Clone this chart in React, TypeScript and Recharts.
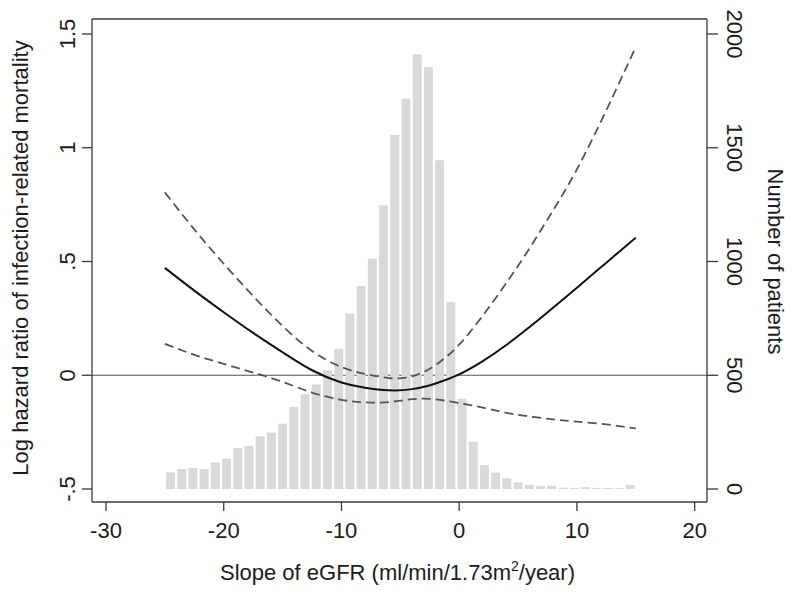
import React from "react";
import { ComposedChart, Bar, Line, XAxis, YAxis, ReferenceLine } from "recharts";

// histogram of eGFR slopes (42 bins between -25 and 15)
const BIN_START = -25;
const BIN_END = 15;
const BIN_COUNTS = [
  73, 88, 93, 88, 117, 134, 180, 189, 232, 248, 287, 361, 417, 459, 522, 616, 771, 892, 1012, 1246, 1556,
  1715, 1911, 1855, 1445, 822, 397, 208, 105, 72, 47, 29, 19, 14, 14, 6, 5, 8, 5, 4, 4, 18,
];

// spline estimate with 95% CI
const CURVE_X = [-25, -22.5, -20, -17.5, -15, -12.5, -10, -8, -6, -4, -2, 0, 2, 4, 6, 8, 10, 12.5, 15];
const ESTIMATE = [0.472, 0.372, 0.277, 0.186, 0.101, 0.022, -0.032, -0.055, -0.066, -0.061, -0.036, 0.004, 0.062, 0.133, 0.213, 0.298, 0.385, 0.495, 0.605];
const UPPER = [0.804, 0.641, 0.49, 0.348, 0.216, 0.107, 0.036, 0.006, -0.012, -0.005, 0.045, 0.135, 0.262, 0.405, 0.56, 0.727, 0.905, 1.165, 1.443];
const LOWER = [0.138, 0.09, 0.05, 0.012, -0.029, -0.076, -0.108, -0.119, -0.118, -0.105, -0.106, -0.122, -0.142, -0.165, -0.181, -0.194, -0.204, -0.216, -0.234];

const X_TICKS = [-30, -20, -10, 0, 10, 20];
const HR_TICKS = [-0.5, 0, 0.5, 1, 1.5];
const HR_TICK_LABELS = ["-.5", "0", ".5", "1", "1.5"];
const N_TICKS = [0, 500, 1000, 1500, 2000];

const X_DOMAIN = [-31.19, 21.05];
const HR_DOMAIN = [-0.5571, 1.5659];
const N_DOMAIN = [-57.1, 2065.9];

const FONT = "'Liberation Sans', Arial, sans-serif";
const FS = 22;
const TEXT = "#1c1c1c";
const FRAME = "#3a3a3a";

const binWidth = (BIN_END - BIN_START) / BIN_COUNTS.length;
const bins = BIN_COUNTS.map((count, i) => ({ x: BIN_START + (i + 0.5) * binWidth, count }));
const curve = CURVE_X.map((x, i) => ({ x, est: ESTIMATE[i], hi: UPPER[i], lo: LOWER[i] }));

const hrLabel = (v: number) => {
  const i = HR_TICKS.findIndex((t) => Math.abs(t - v) < 1e-9);
  return i >= 0 ? HR_TICK_LABELS[i] : String(v);
};

const LeftTick = (props: any) => {
  const { x, y, payload } = props;
  const bx = x - 5;
  return (
    <text x={bx} y={y} transform={`rotate(-90, ${bx}, ${y})`} textAnchor="middle" fontSize={FS} fill={TEXT} fontFamily={FONT}>
      {hrLabel(payload.value)}
    </text>
  );
};

const RightTick = (props: any) => {
  const { x, y, payload } = props;
  const bx = x + 7;
  return (
    <text x={bx} y={y} transform={`rotate(90, ${bx}, ${y})`} textAnchor="middle" fontSize={FS} fill={TEXT} fontFamily={FONT}>
      {payload.value}
    </text>
  );
};

const BottomTick = (props: any) => {
  const { x, y, payload } = props;
  return (
    <text x={x} y={y + 25} textAnchor="middle" fontSize={FS} fill={TEXT} fontFamily={FONT}>
      {payload.value}
    </text>
  );
};

const App: React.FC = () => {
  return (
    <div style={{ position: "absolute", left: 0, top: 0, width: 800, height: 594, background: "#fff" }}>
      <ComposedChart width={800} height={594} data={bins} margin={{ top: 19, right: 0, bottom: 0, left: 0 }}>
        <XAxis xAxisId="bins" dataKey="x" type="number" orientation="top" height={0} domain={X_DOMAIN} allowDataOverflow hide />
        <XAxis
          xAxisId="main"
          dataKey="x"
          type="number"
          domain={X_DOMAIN}
          allowDataOverflow
          ticks={X_TICKS}
          height={92}
          tickSize={9}
          tick={<BottomTick />}
          axisLine={{ stroke: FRAME, strokeWidth: 1.3 }}
          tickLine={{ stroke: FRAME, strokeWidth: 1.3 }}
          label={{
            content: (p: any) => {
              const vb = p.viewBox;
              return (
                <text x={vb.x + vb.width / 2 - 2} y={vb.y + 78} textAnchor="middle" fontSize={FS} fill={TEXT} fontFamily={FONT}>
                  Slope of eGFR (ml/min/1.73m
                  <tspan dy={-9} fontSize={14}>2</tspan>
                  <tspan dy={9}>/year)</tspan>
                </text>
              );
            },
          }}
        />
        <YAxis
          yAxisId="hr"
          type="number"
          domain={HR_DOMAIN}
          allowDataOverflow
          ticks={HR_TICKS}
          width={92}
          tickSize={10}
          tick={<LeftTick />}
          axisLine={{ stroke: FRAME, strokeWidth: 1.3 }}
          tickLine={{ stroke: FRAME, strokeWidth: 1.3 }}
          label={{
            content: (p: any) => {
              const vb = p.viewBox;
              const bx = vb.x + 28;
              const cy = vb.y + vb.height / 2 - 2.5;
              return (
                <text x={bx} y={cy} transform={`rotate(-90, ${bx}, ${cy})`} textAnchor="middle" fontSize={FS} fill={TEXT} fontFamily={FONT}>
                  Log hazard ratio of infection-related mortality
                </text>
              );
            },
          }}
        />
        <YAxis
          yAxisId="n"
          orientation="right"
          type="number"
          domain={N_DOMAIN}
          allowDataOverflow
          ticks={N_TICKS}
          width={93}
          tickSize={11}
          tick={<RightTick />}
          axisLine={{ stroke: FRAME, strokeWidth: 1.3 }}
          tickLine={{ stroke: FRAME, strokeWidth: 1.3 }}
          label={{
            content: (p: any) => {
              const vb = p.viewBox;
              const bx = vb.x + 61;
              const cy = vb.y + vb.height / 2 + 1;
              return (
                <text x={bx} y={cy} transform={`rotate(90, ${bx}, ${cy})`} textAnchor="middle" fontSize={FS} fill={TEXT} fontFamily={FONT}>
                  Number of patients
                </text>
              );
            },
          }}
        />
        <ReferenceLine yAxisId="hr" xAxisId="main" y={HR_DOMAIN[1]} stroke={FRAME} strokeWidth={1.3} />
        <ReferenceLine yAxisId="hr" xAxisId="main" y={0} stroke="#555" strokeWidth={1.2} zIndex={100} />
        <Bar xAxisId="bins" yAxisId="n" dataKey="count" fill="#d9d9d9" barCategoryGap={0.5} isAnimationActive={false} />
        <Line xAxisId="main" yAxisId="hr" data={curve} dataKey="hi" type="natural" stroke="#555" strokeWidth={1.8} strokeDasharray="9 5" dot={false} activeDot={false} isAnimationActive={false} />
        <Line xAxisId="main" yAxisId="hr" data={curve} dataKey="lo" type="natural" stroke="#555" strokeWidth={1.8} strokeDasharray="9 5" dot={false} activeDot={false} isAnimationActive={false} />
        <Line xAxisId="main" yAxisId="hr" data={curve} dataKey="est" type="natural" stroke="#111" strokeWidth={2} dot={false} activeDot={false} isAnimationActive={false} />
      </ComposedChart>
    </div>
  );
};

export default App;
